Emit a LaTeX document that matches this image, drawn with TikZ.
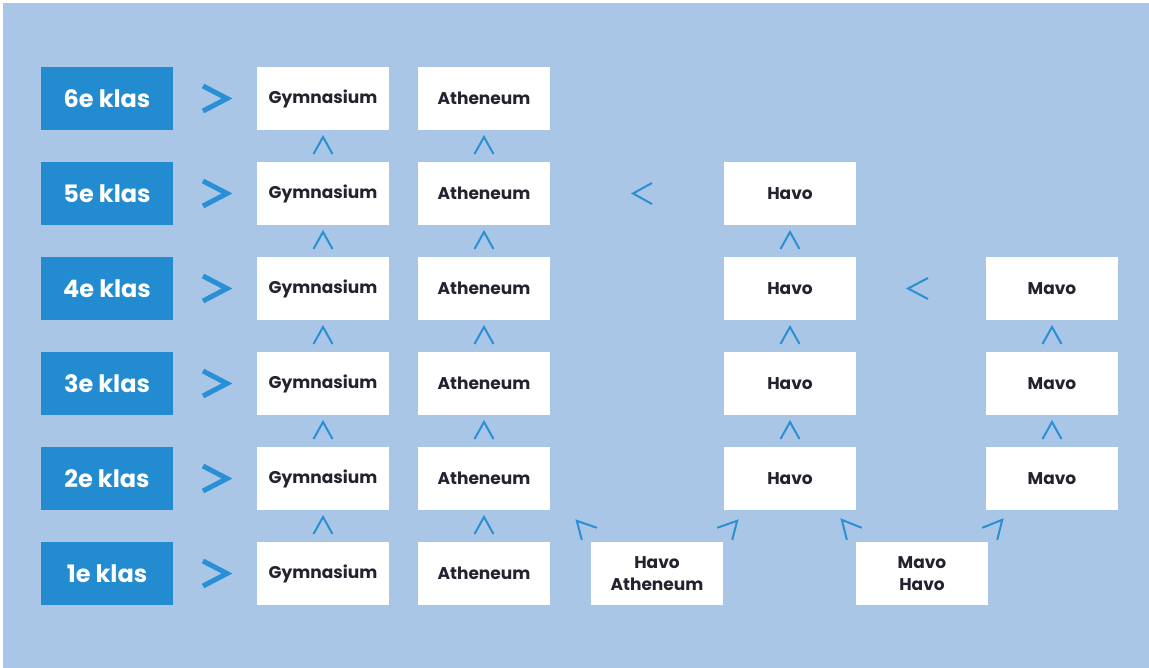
\documentclass[tikz,border=0pt]{standalone}
\usepackage{fontspec}
\setmainfont{Poppins}
\usetikzlibrary{calc}
\definecolor{bgblue}{HTML}{A9C6E6}
\definecolor{klasblue}{HTML}{238BCF}
\definecolor{chevblue}{HTML}{2B8FD5}
\definecolor{txt}{HTML}{23232F}
\tikzset{
  schoolbox/.style={fill=white, minimum width=132pt, minimum height=63pt, inner sep=0pt, align=center, text=txt, font=\fontsize{17}{22}\selectfont\bfseries},
  klasbox/.style={fill=klasblue, minimum width=132pt, minimum height=63pt, inner sep=0pt, text=white, font=\fontsize{24}{27}\selectfont\bfseries},
  bigchev/.style={draw=chevblue, line width=5pt, line join=miter},
  chev/.style={draw=chevblue, line width=2pt, line cap=butt, line join=miter},
}
\begin{document}
\begin{tikzpicture}[x=1pt,y=-1pt]
\useasboundingbox (0,0) rectangle (1149,668);
\fill[white] (0,0) rectangle (1149,668);
\fill[bgblue] (3,3) rectangle (1149,668);
% klas boxes
\foreach \n/\y in {6/98.5,5/193.5,4/288.5,3/383.5,2/478.5,1/573.5}{
  \node[klasbox] (k\n) at (107,\y) {\n e klas};
}
% gymnasium & atheneum
\foreach \n/\y in {6/98.5,5/193.5,4/288.5,3/383.5,2/478.5,1/573.5}{
  \node[schoolbox] (g\n) at (323,\y) {Gymnasium};
  \node[schoolbox] (a\n) at (484,\y) {Atheneum};
}
% havo
\foreach \n/\y in {5/193.5,4/288.5,3/383.5,2/478.5}{
  \node[schoolbox] (h\n) at (790,\y) {Havo};
}
% mavo
\foreach \n/\y in {4/288.5,3/383.5,2/478.5}{
  \node[schoolbox] (m\n) at (1052,\y) {Mavo};
}
\node[schoolbox] (ha) at (657,573.5) {Havo\\Atheneum};
\node[schoolbox] (mh) at (922,573.5) {Mavo\\Havo};
% big > chevrons
\foreach \n in {6,5,4,3,2,1}{
  \path ($(k\n.east)!0.5!(g\n.west)$) coordinate (c\n);
  \draw[bigchev] ($(c\n)+(-12,-12.5)$) -- ($(c\n)+(12,0)$) -- ($(c\n)+(-12,12.5)$);
}
% up chevrons
\foreach \lo/\hi in {1/2,2/3,3/4,4/5,5/6}{
  \path ($(g\lo.north)!0.5!(g\hi.south)$) coordinate (ug);
  \draw[chev] ($(ug)+(-9.5,8)$) -- ($(ug)+(0,-9)$) -- ($(ug)+(9.5,8)$);
  \path ($(a\lo.north)!0.5!(a\hi.south)$) coordinate (ua);
  \draw[chev] ($(ua)+(-9.5,8)$) -- ($(ua)+(0,-9)$) -- ($(ua)+(9.5,8)$);
}
\foreach \lo/\hi in {2/3,3/4,4/5}{
  \path ($(h\lo.north)!0.5!(h\hi.south)$) coordinate (uh);
  \draw[chev] ($(uh)+(-9.5,8)$) -- ($(uh)+(0,-9)$) -- ($(uh)+(9.5,8)$);
}
\foreach \lo/\hi in {2/3,3/4}{
  \path ($(m\lo.north)!0.5!(m\hi.south)$) coordinate (um);
  \draw[chev] ($(um)+(-9.5,8)$) -- ($(um)+(0,-9)$) -- ($(um)+(9.5,8)$);
}
% left chevrons
\path ($(a5.east)!0.5!(h5.west)$) coordinate (l5);
\draw[chev] ($(l5)+(15,-10.5)$) -- ($(l5)+(-4,0)$) -- ($(l5)+(15,10.5)$);
\path ($(h4.east)!0.5!(m4.west)$) coordinate (l4);
\draw[chev] ($(l4)+(7,-10.5)$) -- ($(l4)+(-13,0)$) -- ($(l4)+(7,10.5)$);
% diagonal chevrons
\path (ha.north west) ++(-14,-21) coordinate (d1);
\draw[chev] ($(d1)+(20,7)$) -- (d1) -- ($(d1)+(5,19)$);
\path (ha.north east) ++(14,-21) coordinate (d2);
\draw[chev] ($(d2)+(-20,7)$) -- (d2) -- ($(d2)+(-5,19)$);
\path (mh.north west) ++(-14,-22) coordinate (d3);
\draw[chev] ($(d3)+(20,8)$) -- (d3) -- ($(d3)+(5,20)$);
\path (mh.north east) ++(14,-22) coordinate (d4);
\draw[chev] ($(d4)+(-20,8)$) -- (d4) -- ($(d4)+(-5,20)$);
\end{tikzpicture}
\end{document}
